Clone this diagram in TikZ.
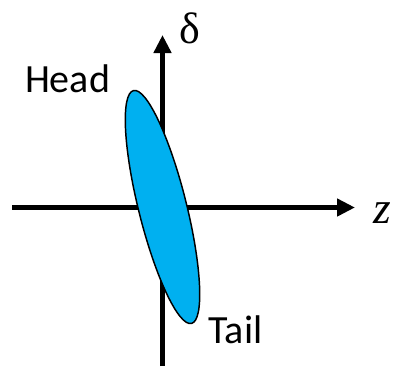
\documentclass[tikz,border=0pt]{standalone}
\usepackage{fontspec}
\setmainfont{Carlito}
\newfontfamily\serifgr{Liberation Serif}
\usetikzlibrary{arrows.meta}
\definecolor{beamblue}{RGB}{0,176,240}
\tikzset{
  axis/.style={line width=4pt,-{Triangle[length=13.5pt,width=12.75pt]}},
  beam/.style={draw=black,line width=1.1pt,fill=beamblue},
  lbl/.style={anchor=base,inner sep=0pt,font=\fontsize{30pt}{36pt}\selectfont}
}
\begin{document}
\begin{tikzpicture}[x=0.75pt,y=-0.75pt]
\useasboundingbox (0,0) rectangle (410,376);
\coordinate (vb) at (162.5,366);
\coordinate (vt) at (162.5,35);
\coordinate (hl) at (12,207.5);
\coordinate (hr) at (355,207.5);
\coordinate (c) at (162.5,207);
\draw[axis] (vb) -- (vt);
\draw[axis] (hl) -- (hr);
\draw[beam,rotate around={14:(c)}] (c) ellipse [x radius=24, y radius=120];
\node[lbl] (head) at (67.5,92) {Head};
\node[lbl] (tail) at (235.5,343) {Tail};
\node[lbl,font=\serifgr\fontsize{33pt}{38pt}\selectfont] (delta) at (190,43) {δ};
\node[lbl,font=\serifgr\itshape\fontsize{34pt}{38pt}\selectfont] (z) at (382,223) {z};
\end{tikzpicture}
\end{document}
